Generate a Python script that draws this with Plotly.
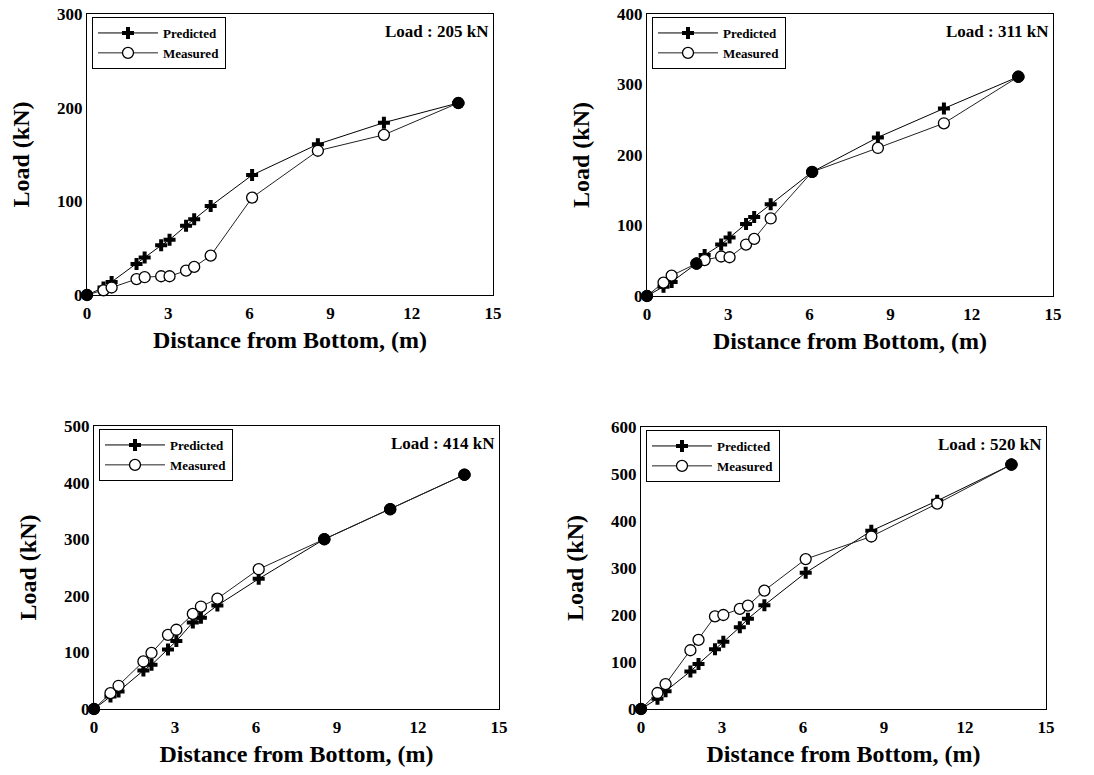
import plotly.graph_objects as go

# Gauge positions along the pile, measured from the bottom (m)
dist_m = [0, 0.61, 0.91, 1.83, 2.13, 2.74, 3.05, 3.66, 3.96, 4.57, 6.10, 8.53, 10.97, 13.72]

# Axial load distribution (kN) for each applied top load
pred_205 = [0, 8, 14, 33, 40, 53, 59, 74, 81, 95, 128, 161, 184, 205]
meas_205 = [0, 5, 8, 17, 19, 20, 20, 26, 30, 42, 104, 154, 171, 205]

pred_311 = [0, 13, 20, 46, 58, 73, 83, 102, 112, 130, 176, 225, 266, 311]
meas_311 = [0, 19, 29, 46, 51, 56, 55, 73, 81, 110, 176, 210, 245, 311]

pred_414 = [0, 22, 31, 68, 78, 105, 120, 153, 161, 183, 230, 300, 353, 414]
meas_414 = [0, 28, 41, 84, 99, 131, 140, 168, 181, 195, 247, 300, 353, 414]

pred_520 = [0, 22, 38, 80, 96, 127, 143, 174, 192, 221, 290, 379, 443, 520]
meas_520 = [0, 34, 53, 125, 147, 197, 200, 213, 220, 252, 319, 367, 437, 520]

top_loads = [205, 311, 414, 520]
y_max = [300, 400, 500, 600]
x_ticks = [0, 3, 6, 9, 12, 15]

W, H = 1094, 775
# panel boxes in pixels: left, right, top, bottom
boxes = [(87, 493, 14, 295), (647, 1053, 14, 296), (94, 499, 426, 709), (641, 1046, 427, 709)]

series = [(pred_205, meas_205), (pred_311, meas_311), (pred_414, meas_414), (pred_520, meas_520)]

SERIF = "Liberation Serif"
fig = go.Figure()
layout = dict(
    width=W, height=H, margin=dict(l=0, r=0, t=0, b=0, pad=0, autoexpand=False),
    paper_bgcolor="white", plot_bgcolor="white", showlegend=True,
    font=dict(family=SERIF, color="black"),
)
annotations = []

for i, ((pred, meas), load, ymx, box) in enumerate(zip(series, top_loads, y_max, boxes)):
    n = i + 1
    xa = "x" if n == 1 else f"x{n}"
    ya = "y" if n == 1 else f"y{n}"
    lg = "legend" if n == 1 else f"legend{n}"
    l, r, t, b = box
    xdom = [l / W, r / W]
    ydom = [(H - b) / H, (H - t) / H]

    fig.add_trace(go.Scatter(
        x=dist_m, y=pred, xaxis=xa, yaxis=ya, legend=lg, name="Predicted",
        mode="lines+markers", cliponaxis=False,
        line=dict(color="black", width=1),
        marker=dict(symbol="cross", size=10, color="black"),
    ))
    fig.add_trace(go.Scatter(
        x=dist_m, y=meas, xaxis=xa, yaxis=ya, legend=lg, name="Measured",
        mode="lines+markers", cliponaxis=False,
        line=dict(color="#222222", width=1),
        marker=dict(symbol="circle", size=11, color="white", line=dict(color="black", width=1.3)),
    ))
    # points where the measured and predicted values coincide are drawn solid
    same = [(x, p) for x, p, m in zip(dist_m, pred, meas) if p == m]
    fig.add_trace(go.Scatter(
        x=[s[0] for s in same], y=[s[1] for s in same], xaxis=xa, yaxis=ya,
        mode="markers", showlegend=False, cliponaxis=False,
        marker=dict(symbol="circle", size=12, color="black"),
    ))

    axis_common = dict(
        showline=True, linecolor="black", linewidth=1, mirror=True,
        showgrid=False, zeroline=False, ticks="", automargin=False,
        tickfont=dict(family=SERIF, size=17, color="black", weight="bold"),
    )
    layout["xaxis" if n == 1 else f"xaxis{n}"] = dict(
        axis_common, domain=xdom, range=[0, 15], tickvals=x_ticks,
        anchor=ya, ticklabelstandoff=3,
        title=dict(text="Distance from Bottom, (m)", standoff=8,
                   font=dict(family=SERIF, size=24, color="black", weight="bold")),
    )
    layout["yaxis" if n == 1 else f"yaxis{n}"] = dict(
        axis_common, domain=ydom, range=[0, ymx], dtick=100,
        anchor=xa,
        title=dict(text="Load (kN)", standoff=20,
                   font=dict(family=SERIF, size=24, color="black", weight="bold")),
    )
    layout[lg] = dict(
        x=(l + 5) / W, y=(H - t - 3) / H, xanchor="left", yanchor="top",
        xref="paper", yref="paper",
        bgcolor="white", bordercolor="black", borderwidth=1,
        font=dict(family=SERIF, size=13, color="black", weight="bold"),
        tracegroupgap=0, itemwidth=60,
    )
    annotations.append(dict(
        text=f"Load : {load} kN", xref=f"{xa} domain", yref=f"{ya} domain",
        x=1, y=1, xanchor="right", yanchor="top", xshift=-2, yshift=-6,
        showarrow=False, font=dict(family=SERIF, size=17, color="black", weight="bold"),
    ))

layout["annotations"] = annotations
fig.update_layout(**layout)
fig.write_html("out.html")
